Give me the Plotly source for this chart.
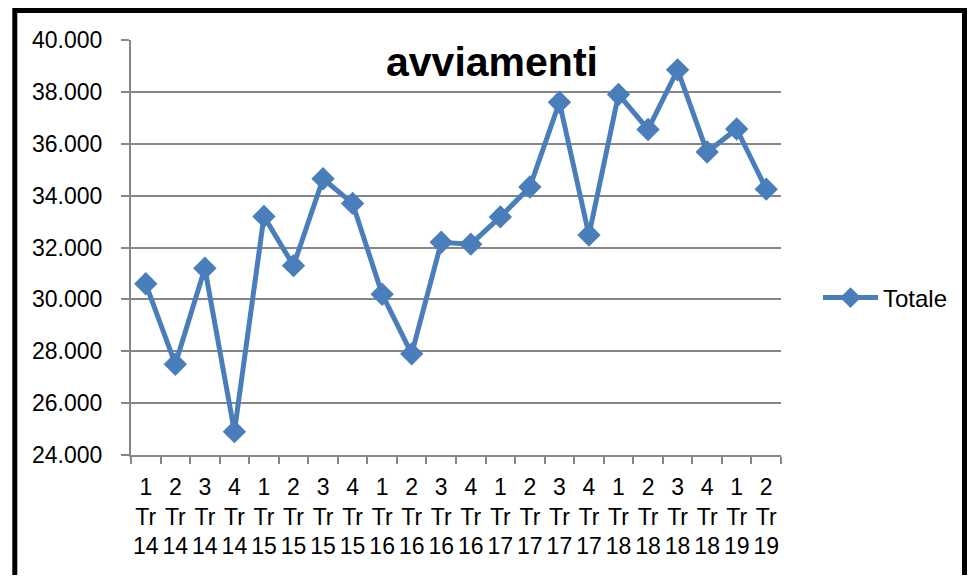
import plotly.graph_objects as go

quarters = [1, 2, 3, 4, 1, 2, 3, 4, 1, 2, 3, 4, 1, 2, 3, 4, 1, 2, 3, 4, 1, 2]
years = [14, 14, 14, 14, 15, 15, 15, 15, 16, 16, 16, 16, 17, 17, 17, 17, 18, 18, 18, 18, 19, 19]
totale = [30600, 27500, 31200, 24900, 33200, 31300, 34650, 33700, 30200, 27900, 32200,
          32130, 33180, 34330, 37600, 32480, 37900, 36550, 38850, 35680, 36570, 34250]
y_ticks = [24000, 26000, 28000, 30000, 32000, 34000, 36000, 38000, 40000]
y_tick_text = ["24.000", "26.000", "28.000", "30.000", "32.000", "34.000", "36.000", "38.000", "40.000"]

categories = [f"{q}<br>Tr<br>{y}" for q, y in zip(quarters, years)]

BLUE = "#4a7ebb"
GRID = "#868686"
FONT = "Liberation Sans"

# page has an 8px body margin; plot area in page pixels: x 131..781, y 40..455
W, H = 959, 567
L, T = 123, 32
PW, PH = 650, 415


def px_x(page_x):
    return (page_x - 131) / PW


def px_y(page_y):
    return (455 - page_y) / PH


fig = go.Figure()
fig.add_trace(go.Scatter(
    x=categories, y=totale, name="Totale", mode="lines+markers",
    line=dict(color=BLUE, width=5),
    marker=dict(symbol="diamond", size=18, color=BLUE),
))

fig.update_layout(
    width=W, height=H,
    margin=dict(l=L, r=W - L - PW, t=T, b=H - T - PH, pad=0),
    paper_bgcolor="white", plot_bgcolor="white",
    font=dict(family=FONT, color="black"),
    showlegend=True,
    legend=dict(x=px_x(818), y=px_y(298), xanchor="left", yanchor="middle",
                font=dict(size=24, family=FONT), bgcolor="rgba(0,0,0,0)",
                itemwidth=55),
    xaxis=dict(
        type="category", tickson="boundaries", ticks="outside", ticklen=7,
        tickcolor=GRID, tickwidth=2, showline=True, linecolor=GRID, linewidth=2,
        showgrid=False, tickfont=dict(size=23, family=FONT), tickangle=0,
        range=[-0.5, len(categories) - 0.5], ticklabelstandoff=10,
    ),
    yaxis=dict(
        range=[24000, 40000], tickvals=y_ticks, ticktext=y_tick_text,
        showgrid=True, gridcolor=GRID, gridwidth=2,
        showline=True, linecolor=GRID, linewidth=2,
        ticks="outside", ticklen=8, tickcolor=GRID, tickwidth=2,
        tickfont=dict(size=23, family=FONT), zeroline=False,
        ticklabelstandoff=14,
    ),
    annotations=[dict(
        text="<b>avviamenti</b>", x=px_x(492), y=px_y(62), xref="paper", yref="paper",
        xanchor="center", yanchor="middle", showarrow=False,
        font=dict(size=41, family=FONT, color="black"),
    )],
)

# outer chart frame
fig.add_shape(type="rect", xref="paper", yref="paper",
              x0=px_x(14.8), x1=px_x(964.5), y0=px_y(620), y1=px_y(10.5),
              line=dict(color="black", width=5), fillcolor="rgba(0,0,0,0)", layer="below")

fig.write_html("out.html")
